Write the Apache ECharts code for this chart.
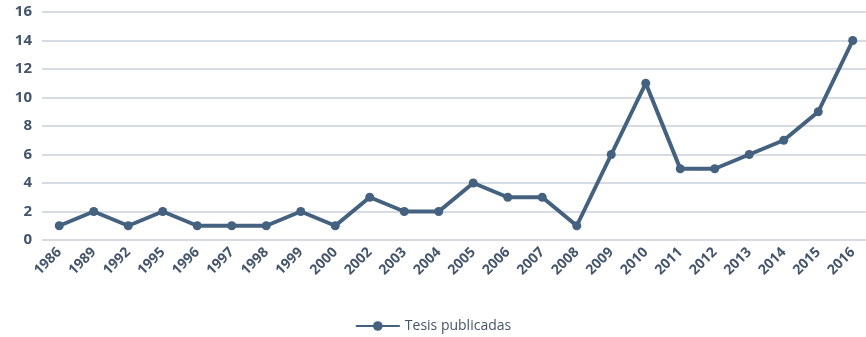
<!DOCTYPE html>
<html>
<head>
<meta charset="utf-8">
<script src="https://cdn.jsdelivr.net/npm/echarts@6/dist/echarts.min.js"></script>
<style>
  html, body { margin: 0; padding: 0; background: #fff; }
  #chart { width: 866px; height: 337px; }
</style>
</head>
<body>
<div id="chart"></div>
<script>
// Tesis publicadas por año
const years = ['1986','1989','1992','1995','1996','1997','1998','1999','2000','2002','2003','2004','2005','2006','2007','2008','2009','2010','2011','2012','2013','2014','2015','2016'];
const tesis = [1, 2, 1, 2, 1, 1, 1, 2, 1, 3, 2, 2, 4, 3, 3, 1, 6, 11, 5, 5, 6, 7, 9, 14];
const yTicks = { min: 0, max: 16, step: 2 };

const labelColor = '#44546a';
const lineColor = '#44617f';
const font = 'Open Sans, Liberation Sans, sans-serif';

const chart = echarts.init(document.getElementById('chart'), null, { renderer: 'canvas' });
chart.setOption({
  animation: false,
  grid: { left: 42, top: 12, width: 828, bottom: 97, outerBoundsMode: 'none' },
  legend: {
    top: 314,
    left: 'center',
    itemWidth: 44,
    itemHeight: 12,
    itemGap: 4,
    textStyle: { color: labelColor, fontFamily: font, fontSize: 14 },
    data: ['Tesis publicadas']
  },
  xAxis: {
    type: 'category',
    data: years,
    boundaryGap: true,
    axisLine: { show: false },
    axisTick: { show: false },
    axisLabel: {
      rotate: 45, interval: 0, margin: 10,
      color: labelColor, fontFamily: font, fontWeight: 'bold', fontSize: 14
    }
  },
  yAxis: {
    type: 'value',
    min: yTicks.min, max: yTicks.max, interval: yTicks.step,
    axisLine: { show: false },
    axisTick: { show: false },
    axisLabel: { color: labelColor, fontFamily: font, fontWeight: 'bold', fontSize: 15, margin: 10 },
    splitLine: { lineStyle: { color: '#c9cfdb', width: 1.5 } }
  },
  series: [{
    name: 'Tesis publicadas',
    type: 'line',
    data: tesis,
    symbol: 'circle',
    symbolSize: 9,
    lineStyle: { color: lineColor, width: 4 },
    itemStyle: { color: lineColor }
  }]
});
</script>
</body>
</html>
